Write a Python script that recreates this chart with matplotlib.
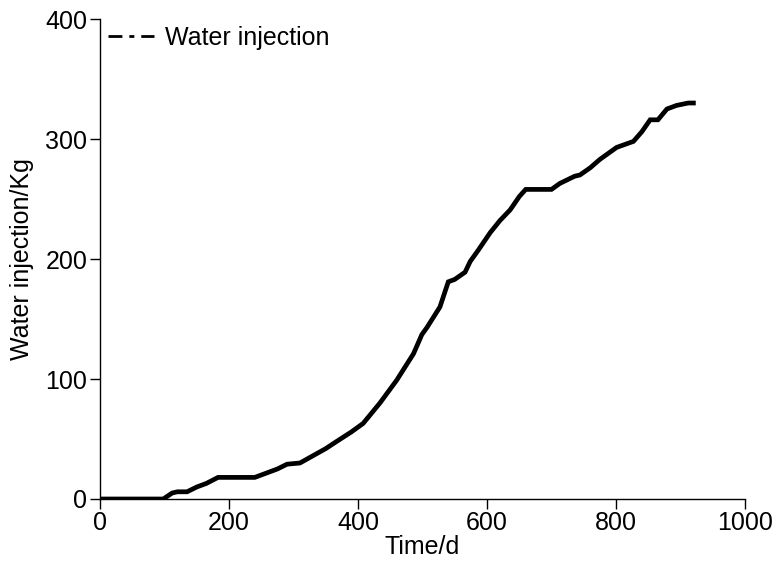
import numpy as np
import matplotlib
matplotlib.use('Agg')
import matplotlib.pyplot as plt
from matplotlib.lines import Line2D

# cumulative water injection over time
time_d = [0, 98, 112, 120, 135, 150, 165, 183, 240, 255, 275, 290, 310, 330,
          350, 367, 390, 408, 434, 460, 486, 499, 507, 527, 540, 550, 566, 574,
          586, 605, 620, 636, 650, 660, 700, 713, 736, 744, 760, 775, 801, 827,
          840, 853, 865, 879, 894, 912, 920]
water_kg = [0, 0, 5, 6, 6, 10, 13, 18, 18, 21, 25, 29, 30, 36,
            42, 48, 56, 63, 80, 99, 121, 137, 143, 160, 181, 183, 189, 198,
            207, 222, 232, 241, 252, 258, 258, 263, 269, 270, 276, 283, 293, 298,
            306, 316, 316, 325, 328, 330, 330]

x_ticks = [0, 200, 400, 600, 800, 1000]
y_ticks = [0, 100, 200, 300, 400]

fs = 18
plt.rcParams['font.family'] = ['Liberation Sans', 'DejaVu Sans']

fig = plt.figure(figsize=(7.77, 5.71), dpi=100)
ax = fig.add_axes([0.1287, 0.1261, 0.8301, 0.8406])

ax.plot(time_d, water_kg, color='black', linewidth=3.4, solid_joinstyle='miter')

ax.set_xlim(0, 1000)
ax.set_ylim(0, 400)
ax.set_xticks(x_ticks)
ax.set_yticks(y_ticks)
ax.spines['top'].set_visible(False)
ax.spines['right'].set_visible(False)
for s in ('left', 'bottom'):
    ax.spines[s].set_linewidth(1.0)
ax.tick_params(direction='out', length=7, width=1.0, labelsize=fs, pad=2)

ax.set_xlabel('Time/d', fontsize=fs, labelpad=0)
ax.set_ylabel('Water injection/Kg', fontsize=fs, labelpad=8)

# legend entry drawn as a dash-dot line
handle = Line2D([], [], color='black', linewidth=2,
                linestyle=(0, (5, 2.5, 1.8, 2.5)))
ax.legend([handle], ['Water injection'], loc='upper left',
          bbox_to_anchor=(0.012, 0.985), frameon=False, fontsize=fs,
          borderpad=0, borderaxespad=0, handlelength=1.85, handletextpad=0.45)

fig.savefig('out.png', dpi=100)
